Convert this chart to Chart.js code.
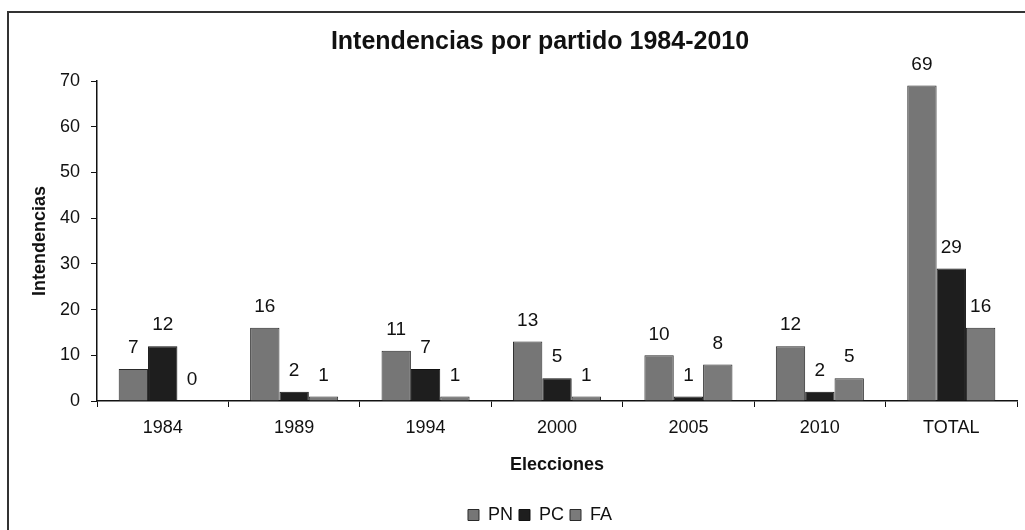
<!DOCTYPE html>
<html>
<head>
<meta charset="utf-8">
<script src="https://cdn.jsdelivr.net/npm/chart.js@4"></script>
<style>
  html, body { margin: 0; padding: 0; background: #fff; overflow: hidden; }
  #wrap {
    position: absolute; left: 7px; top: 11px; width: 1018px; height: 519px;
    border-left: 2px solid #333; border-top: 2px solid #333;
    box-sizing: border-box;
  }
  /* the chart frame runs past the right edge of the window */
  #box { position: absolute; left: 0; top: 0; width: 1080px; height: 534px; }
</style>
</head>
<body>
<div id="wrap"></div>
<div id="box"><canvas id="chart"></canvas></div>
<script>
const elecciones = ["1984", "1989", "1994", "2000", "2005", "2010", "TOTAL"];
const pn = [7, 16, 11, 13, 10, 12, 69];
const pc = [12, 2, 7, 5, 1, 2, 29];
const fa = [0, 1, 1, 1, 8, 5, 16];
const yTicks = [0, 10, 20, 30, 40, 50, 60, 70];

const FONT = "'Liberation Sans', Arial, sans-serif";

// numbers above each bar
const valueLabels = {
  id: "valueLabels",
  afterDatasetsDraw(chart) {
    const ctx = chart.ctx;
    ctx.save();
    ctx.font = "19px " + FONT;
    ctx.fillStyle = "#111";
    ctx.textAlign = "center";
    ctx.textBaseline = "middle";
    chart.data.datasets.forEach((ds, i) => {
      chart.getDatasetMeta(i).data.forEach((bar, j) => {
        ctx.fillText(ds.data[j], bar.x, bar.y - 21);
      });
    });
    ctx.restore();
  }
};

new Chart(document.getElementById("chart"), {
  type: "bar",
  data: {
    labels: elecciones,
    datasets: [
      { label: "PN", data: pn, backgroundColor: "#767676", borderColor: "#2a2a2a", borderWidth: 1 },
      { label: "PC", data: pc, backgroundColor: "#1e1e1e", borderColor: "#111", borderWidth: 1 },
      { label: "FA", data: fa, backgroundColor: "#7a7a7a", borderColor: "#2a2a2a", borderWidth: 1 }
    ]
  },
  options: {
    responsive: true,
    maintainAspectRatio: false,
    animation: false,
    layout: { padding: 0 },
    datasets: { bar: { categoryPercentage: 0.67, barPercentage: 1 } },
    plugins: {
      title: {
        display: true,
        text: "Intendencias por partido 1984-2010",
        color: "#111",
        font: { family: FONT, size: 25, weight: "bold" },
        padding: { top: 27, bottom: 24 }
      },
      legend: {
        position: "bottom",
        labels: {
          color: "#111",
          font: { family: FONT, size: 18 },
          boxWidth: 11,
          boxHeight: 11,
          padding: 6
        }
      },
      tooltip: { enabled: false }
    },
    scales: {
      x: {
        grid: { display: true, drawOnChartArea: false, color: "#111", tickLength: 6, offset: true },
        border: { color: "#111", width: 1.5 },
        ticks: { color: "#111", font: { family: FONT, size: 18 }, padding: 10 },
        title: {
          display: true, text: "Elecciones", color: "#111",
          font: { family: FONT, size: 18, weight: "bold" },
          padding: { top: 0, bottom: 24 }
        },
        afterFit(scale) { scale.height = 99; }
      },
      y: {
        min: 0, max: 70,
        afterBuildTicks(scale) { scale.ticks = yTicks.map(v => ({ value: v })); },
        grid: { display: true, drawOnChartArea: false, color: "#111", tickLength: 6 },
        border: { color: "#111", width: 1.5 },
        ticks: { color: "#111", font: { family: FONT, size: 18 }, padding: 11 },
        title: {
          display: true, text: "Intendencias", color: "#111",
          font: { family: FONT, size: 18, weight: "bold" },
          padding: { top: 29, bottom: 0 }
        },
        afterFit(scale) { scale.width = 97; }
      },
      // empty axis on the right, only reserves space
      yRight: {
        position: "right",
        min: 0, max: 70,
        grid: { display: false },
        border: { display: false },
        ticks: { display: false },
        afterFit(scale) { scale.width = 63; }
      }
    }
  },
  plugins: [valueLabels]
});
</script>
</body>
</html>
